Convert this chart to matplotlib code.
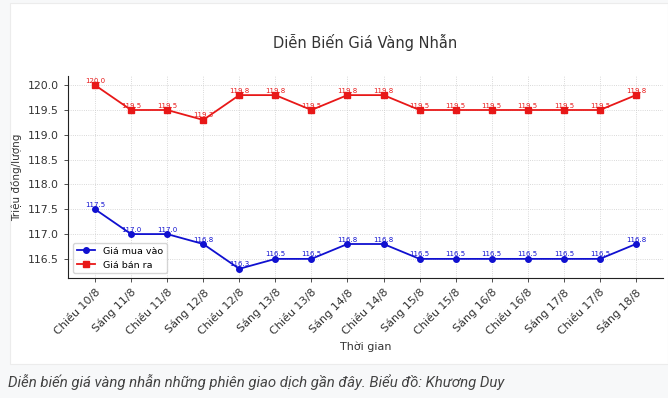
import matplotlib
matplotlib.use('Agg')
import matplotlib.pyplot as plt
from matplotlib.patches import Rectangle

plt.rcParams['font.family'] = ['DejaVu Sans']

# dữ liệu
phien = ['Chiều 10/8', 'Sáng 11/8', 'Chiều 11/8', 'Sáng 12/8', 'Chiều 12/8',
         'Sáng 13/8', 'Chiều 13/8', 'Sáng 14/8', 'Chiều 14/8', 'Sáng 15/8',
         'Chiều 15/8', 'Sáng 16/8', 'Chiều 16/8', 'Sáng 17/8', 'Chiều 17/8',
         'Sáng 18/8']
gia_mua = [117.5, 117.0, 117.0, 116.8, 116.3, 116.5, 116.5, 116.8, 116.8,
           116.5, 116.5, 116.5, 116.5, 116.5, 116.5, 116.8]
gia_ban = [120.0, 119.5, 119.5, 119.3, 119.8, 119.8, 119.5, 119.8, 119.8,
           119.5, 119.5, 119.5, 119.5, 119.5, 119.5, 119.8]

W, H = 668, 398
fig = plt.figure(figsize=(W / 100, H / 100), dpi=100)
fig.patch.set_facecolor('#f7f8f9')
# nền trắng của ảnh biểu đồ
fig.patches.append(Rectangle((10 / W, (H - 364) / H), (W - 10) / W, 361 / H,
                             transform=fig.transFigure, facecolor='white',
                             edgecolor='#ececec', lw=0.8, zorder=-5))

ax = fig.add_axes([68 / W, (H - 278) / H, 595 / W, 202 / H])
ax.set_facecolor('white')

x = list(range(len(phien)))
ax.plot(x, gia_mua, color='#1010d0', marker='o', ms=4, lw=1.3, label='Giá mua vào')
ax.plot(x, gia_ban, color='#e81818', marker='s', ms=4, lw=1.3, label='Giá bán ra')

for a, b in zip(x, gia_mua):
    ax.text(a, b + 0.03, '%.1f' % b, ha='center', va='bottom', fontsize=5, color='#1010d0')
for a, b in zip(x, gia_ban):
    ax.text(a, b + 0.03, '%.1f' % b, ha='center', va='bottom', fontsize=5, color='#e81818')

ax.set_xticks(x)
ax.set_xticklabels(phien, rotation=45, ha='right', rotation_mode='anchor')
ax.set_yticks([116.5, 117.0, 117.5, 118.0, 118.5, 119.0, 119.5, 120.0])
ax.tick_params(labelcolor='#333333', color='#333333', length=3, width=0.6)
ax.tick_params(axis='x', labelsize=8)
ax.tick_params(axis='y', labelsize=7.8)

ax.spines['top'].set_visible(False)
ax.spines['right'].set_visible(False)
for s in ['left', 'bottom']:
    ax.spines[s].set_color('#222222')
    ax.spines[s].set_linewidth(0.8)
ax.grid(ls=':', color='#cccccc', lw=0.6)
ax.set_axisbelow(True)

ax.set_title('Diễn Biến Giá Vàng Nhẫn', fontsize=10.5, color='#333333', pad=20)
ax.set_xlabel('Thời gian', fontsize=8, color='#333333', labelpad=3)
ax.set_ylabel('Triệu đồng/lượng', fontsize=7.5, color='#333333')

ax.legend(loc='lower left', fontsize=6.8, frameon=True, edgecolor='#cccccc',
          borderpad=0.4, handlelength=2)

fig.text(8 / W, (H - 382) / H,
         'Diễn biến giá vàng nhẫn những phiên giao dịch gần đây. Biểu đồ: Khương Duy',
         fontsize=10.8, style='italic', color='#444444', family='Roboto', va='center')

plt.savefig('out.png', dpi=100, facecolor=fig.get_facecolor())
